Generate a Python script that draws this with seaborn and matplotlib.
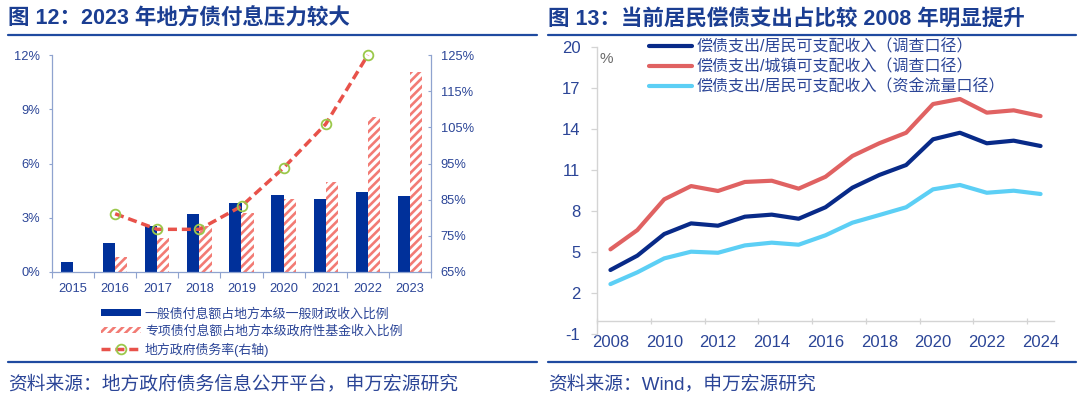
import matplotlib
matplotlib.use('Agg')
import matplotlib.pyplot as plt
import seaborn as sns
import pandas as pd
from matplotlib.patches import Patch
from matplotlib.lines import Line2D
from matplotlib.ticker import FixedLocator, FuncFormatter

# ---------------- data ----------------
years_l = ['2015', '2016', '2017', '2018', '2019', '2020', '2021', '2022', '2023']
general_ratio = [0.55, 1.62, 2.53, 3.21, 3.84, 4.25, 4.06, 4.45, 4.19]
special_ratio = [None, 0.85, 1.86, 2.55, 3.29, 4.06, 5.00, 8.57, 11.08]
debt_years = ['2016', '2017', '2018', '2019', '2020', '2021', '2022']
debt_ratio = [81.1, 76.8, 76.8, 83.2, 93.8, 105.9, 125.0]

years_r = [2008, 2009, 2010, 2011, 2012, 2013, 2014, 2015, 2016,
           2017, 2018, 2019, 2020, 2021, 2022, 2023, 2024]
survey_resident = [3.71, 4.76, 6.34, 7.12, 6.95, 7.61, 7.76, 7.46, 8.30,
                   9.73, 10.66, 11.39, 13.27, 13.75, 12.98, 13.17, 12.78]
survey_urban = [5.22, 6.63, 8.88, 9.85, 9.49, 10.15, 10.24, 9.66, 10.53,
                12.05, 12.98, 13.75, 15.85, 16.22, 15.22, 15.39, 14.97]
flow_resident = [2.68, 3.54, 4.56, 5.05, 4.97, 5.51, 5.71, 5.56, 6.25,
                 7.17, 7.73, 8.30, 9.61, 9.93, 9.36, 9.51, 9.27]

lab_g = '一般债付息额占地方本级一般财政收入比例'
lab_s = '专项债付息额占地方本级政府性基金收入比例'
lab_d = '地方政府债务率(右轴)'
lab_r1 = '偿债支出/居民可支配收入（调查口径）'
lab_r2 = '偿债支出/城镇可支配收入（调查口径）'
lab_r3 = '偿债支出/居民可支配收入（资金流量口径）'

title_l = '图 12：2023 年地方债付息压力较大'
title_r = '图 13：当前居民偿债支出占比较 2008 年明显提升'
src_l = '资料来源：地方政府债务信息公开平台，申万宏源研究'
src_r = '资料来源：Wind，申万宏源研究'

# ---------------- style ----------------
sns.set_style('white')
plt.rcParams['font.family'] = ['Liberation Sans', 'Noto Sans CJK SC', 'DejaVu Sans']
plt.rcParams['hatch.linewidth'] = 1.9
plt.rcParams['axes.unicode_minus'] = False

NAVY = '#00309A'
HATCH = '#F27B74'
DASH = '#E8524A'
GREEN = '#9BC84A'
TXT = '#2B4597'
TITLE = '#1B3E92'
RULE = '#1F4AA0'
SPINE_L = '#8FA3CF'
SPINE_R = '#D4D4D4'
C1 = '#082A88'
C2 = '#E06262'
C3 = '#5CCFF5'

W, H = 1080, 401
fig = plt.figure(figsize=(W / 100, H / 100), dpi=100)


def fx(px):
    return px / W


def fy(py):
    return 1 - py / H


# ---------------- left chart ----------------
axL = fig.add_axes([fx(52), fy(272), fx(431 - 52), (272 - 55) / H])
df = pd.DataFrame({
    'year': years_l * 2,
    'series': [lab_g] * len(years_l) + [lab_s] * len(years_l),
    'value': general_ratio + special_ratio,
}).dropna()
sns.barplot(data=df, x='year', y='value', hue='series', order=years_l,
            hue_order=[lab_g, lab_s], palette={lab_g: NAVY, lab_s: 'white'},
            width=0.58, dodge=True, errorbar=None, legend=False,
            saturation=1, ax=axL)
for p in axL.patches:
    fc = p.get_facecolor()
    if fc[0] > 0.9 and fc[1] > 0.9:
        p.set_hatch('////')
        p.set_edgecolor(HATCH)
        p.set_linewidth(0)
    else:
        p.set_linewidth(0)

axL.set_xlim(-0.5, len(years_l) - 0.5)
axL.set_ylim(0, 12)
axL.yaxis.set_major_locator(FixedLocator([0, 3, 6, 9, 12]))
axL.yaxis.set_major_formatter(FuncFormatter(lambda v, p: f'{v:.0f}%'))
axL.set_xticks(range(len(years_l)))
axL.set_xticklabels(years_l)
axL.xaxis.set_minor_locator(FixedLocator([i - 0.5 for i in range(len(years_l) + 1)]))
axL.tick_params(axis='x', which='major', length=0, pad=8, labelsize=9.3, labelcolor=TXT)
axL.tick_params(axis='x', which='minor', length=4, width=0.8, color=SPINE_L, direction='out', bottom=True)
axL.tick_params(axis='y', length=2.5, width=0.8, color=SPINE_L, pad=6, labelsize=9.3,
                labelcolor=TXT, direction='out', left=True)
axL.set_xlabel('')
axL.set_ylabel('')
for s in ['top', 'right']:
    axL.spines[s].set_visible(False)
for s in ['left', 'bottom']:
    axL.spines[s].set_color(SPINE_L)
    axL.spines[s].set_linewidth(0.9)

axL2 = axL.twinx()
xpos = [years_l.index(y) for y in debt_years]
sns.lineplot(x=xpos, y=debt_ratio, ax=axL2, color=DASH, lw=2.5, marker='o',
             markersize=7, markerfacecolor='none', markeredgecolor=GREEN,
             markeredgewidth=1.3, clip_on=False)
axL2.lines[0].set_dashes((2.6, 1.4))
axL2.set_ylim(65, 125)
axL2.yaxis.set_major_locator(FixedLocator([65, 75, 85, 95, 105, 115, 125]))
axL2.yaxis.set_major_formatter(FuncFormatter(lambda v, p: f'{v:.0f}%'))
axL2.tick_params(axis='y', length=2.5, width=0.8, color=SPINE_L, pad=7, labelsize=9.3,
                 labelcolor=TXT, direction='in', right=True)
axL2.set_xlabel('')
axL2.set_ylabel('')
for s in ['top', 'left', 'bottom']:
    axL2.spines[s].set_visible(False)
axL2.spines['right'].set_color(SPINE_L)
axL2.spines['right'].set_linewidth(0.9)

h_l = [Patch(facecolor=NAVY, edgecolor=NAVY, lw=0),
       Patch(facecolor='white', edgecolor=HATCH, hatch='////', lw=0),
       Line2D([], [], color=DASH, lw=2.5, dashes=(2.6, 1.4), marker='o', markersize=7,
              markerfacecolor='none', markeredgecolor=GREEN, markeredgewidth=1.3)]
fig.legend(h_l, [lab_g, lab_s, lab_d], loc='upper left', bbox_to_anchor=(fx(101), fy(308)),
           frameon=False, fontsize=9.3, handlelength=3.1, handleheight=0.45,
           handletextpad=0.3, labelspacing=0.36, borderpad=0, borderaxespad=0,
           labelcolor=TXT, numpoints=1)

# ---------------- right chart ----------------
axR = fig.add_axes([fx(597), fy(334.4), fx(1054 - 597), (334.4 - 47.3) / H])
df2 = pd.DataFrame({
    'year': years_r * 3,
    'series': [lab_r1] * len(years_r) + [lab_r2] * len(years_r) + [lab_r3] * len(years_r),
    'value': survey_resident + survey_urban + flow_resident,
})
sns.lineplot(data=df2, x='year', y='value', hue='series', hue_order=[lab_r1, lab_r2, lab_r3],
             palette={lab_r1: C1, lab_r2: C2, lab_r3: C3}, lw=3, legend=False, ax=axR)
axR.set_xlim(2007.5, 2024.5)
axR.set_ylim(-1, 20)
axR.yaxis.set_major_locator(FixedLocator(list(range(-1, 21, 3))))
axR.xaxis.set_major_locator(FixedLocator(list(range(2008, 2025, 2))))
axR.xaxis.set_major_formatter(FuncFormatter(lambda v, p: f'{v:.0f}'))
axR.xaxis.set_minor_locator(FixedLocator([2007.5 + 2 * k for k in range(9)]))
axR.spines['bottom'].set_position(('data', 0))
axR.tick_params(axis='x', which='major', length=0, pad=10, labelsize=12, labelcolor=TXT)
axR.tick_params(axis='x', which='minor', length=5, width=0.9, color=SPINE_R, direction='inout', bottom=True)
axR.tick_params(axis='y', length=4, width=0.9, color=SPINE_R, pad=8, labelsize=12,
                labelcolor=TXT, direction='out', left=True)
axR.set_xlabel('')
axR.set_ylabel('')
for s in ['top', 'right']:
    axR.spines[s].set_visible(False)
for s in ['left', 'bottom']:
    axR.spines[s].set_color(SPINE_R)
    axR.spines[s].set_linewidth(1.0)

fig.text(fx(606), fy(59), '%', ha='center', va='center', fontsize=11, color='#6B6B6B')

h_r = [Line2D([], [], color=C1, lw=3), Line2D([], [], color=C2, lw=3), Line2D([], [], color=C3, lw=3)]
fig.legend(h_r, [lab_r1, lab_r2, lab_r3], loc='upper left', bbox_to_anchor=(fx(649), fy(39)),
           frameon=False, fontsize=11.5, handlelength=2.7, handletextpad=0.25,
           labelspacing=0.3, borderpad=0, borderaxespad=0, labelcolor=TXT)

# ---------------- titles, rules, sources ----------------
fig.text(fx(8), fy(19), title_l, ha='left', va='center', fontsize=15.5, fontweight='bold', color=TITLE)
fig.text(fx(548), fy(19), title_r, ha='left', va='center', fontsize=15.5, fontweight='bold', color=TITLE)
for x0, x1 in [(8, 537), (548, 1076)]:
    fig.add_artist(Line2D([fx(x0), fx(x1)], [fy(35), fy(35)], color=RULE, lw=1.6))
    fig.add_artist(Line2D([fx(x0), fx(x1)], [fy(362), fy(362)], color=RULE, lw=1.6))
fig.text(fx(8), fy(384), src_l, ha='left', va='center', fontsize=13.5, color=TXT)
fig.text(fx(548), fy(384), src_r, ha='left', va='center', fontsize=13.5, color=TXT)

fig.savefig('out.png', dpi=100)
